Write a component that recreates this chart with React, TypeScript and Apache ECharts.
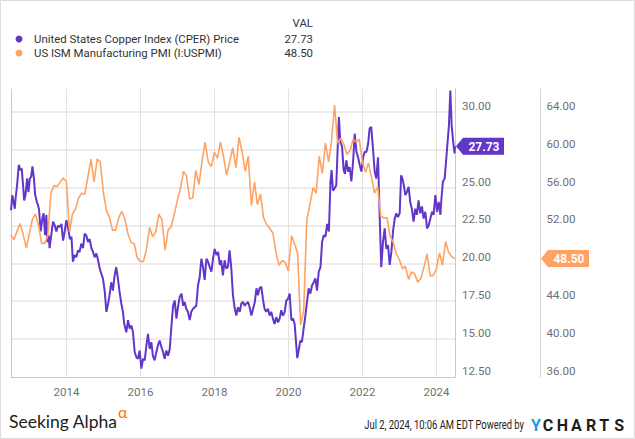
import React, { useEffect, useRef } from 'react';
import * as echarts from 'echarts';

const copperName = 'United States Copper Index (CPER) Price';
const pmiName = 'US ISM Manufacturing PMI (I:USPMI)';

const copperDates = [
  '2012-07-02','2012-07-15','2012-07-28','2012-08-08','2012-08-18','2012-08-31','2012-09-17','2012-10-03','2012-10-16','2012-10-29','2012-11-09','2012-11-22','2012-12-08','2012-12-21',
  '2013-01-04','2013-01-17','2013-01-30','2013-02-13','2013-02-26','2013-03-15','2013-04-04','2013-04-21','2013-05-07','2013-05-20','2013-06-03','2013-06-16','2013-06-26','2013-07-09','2013-07-18','2013-08-01','2013-08-21','2013-09-07','2013-09-23','2013-10-09','2013-10-26','2013-11-12','2013-11-28','2013-12-14','2013-12-31',
  '2014-01-17','2014-02-03','2014-02-19','2014-03-05','2014-03-22','2014-04-08','2014-04-24','2014-05-10','2014-05-27','2014-06-13','2014-06-29','2014-07-15','2014-08-01','2014-08-18','2014-09-04','2014-09-20','2014-10-06','2014-10-23','2014-11-09','2014-11-25','2014-12-11','2014-12-27',
  '2015-01-14','2015-01-30','2015-02-16','2015-03-02','2015-03-18','2015-04-04','2015-04-21','2015-05-07','2015-05-23','2015-06-09','2015-06-26','2015-07-12','2015-07-25','2015-08-14','2015-08-31','2015-09-17','2015-10-03','2015-10-19','2015-11-05','2015-11-22','2015-12-08','2015-12-24',
  '2016-01-10','2016-01-26','2016-02-12','2016-02-29','2016-03-15','2016-04-01','2016-04-17','2016-05-03','2016-05-20','2016-06-06','2016-06-22','2016-07-08','2016-07-25','2016-08-11','2016-08-27','2016-09-13','2016-09-30','2016-10-16','2016-11-02','2016-11-18','2016-12-04','2016-12-21',
  '2017-01-07','2017-01-23','2017-02-09','2017-02-26','2017-03-12','2017-03-28','2017-04-14','2017-05-01','2017-05-17','2017-06-03','2017-06-19','2017-07-05','2017-07-22','2017-08-08','2017-08-24','2017-09-10','2017-09-26','2017-10-13','2017-10-29','2017-11-15','2017-12-01','2017-12-17',
  '2018-01-03','2018-01-20','2018-02-06','2018-02-22','2018-03-08','2018-03-25','2018-04-11','2018-04-27','2018-05-13','2018-05-30','2018-06-16','2018-07-02','2018-07-18','2018-08-04','2018-08-21','2018-09-07','2018-09-23','2018-10-09','2018-10-26','2018-11-12','2018-11-28','2018-12-14','2018-12-31',
  '2019-01-17','2019-02-03','2019-02-19','2019-03-05','2019-03-22','2019-04-08','2019-04-24','2019-05-10','2019-05-26','2019-06-13','2019-06-29','2019-07-15','2019-08-01','2019-08-17','2019-09-03','2019-09-20','2019-10-06','2019-10-22','2019-11-08','2019-11-25','2019-12-11','2019-12-27',
  '2020-01-13','2020-01-30','2020-02-16','2020-03-02','2020-03-18','2020-03-28','2020-04-11','2020-04-27','2020-05-13','2020-05-30','2020-06-16','2020-07-02','2020-07-18','2020-08-04','2020-08-21','2020-09-07','2020-09-23','2020-10-09','2020-10-26','2020-11-12','2020-11-28','2020-12-14','2020-12-31',
  '2021-01-17','2021-02-03','2021-02-19','2021-03-02','2021-03-15','2021-04-01','2021-04-17','2021-05-03','2021-05-13','2021-05-27','2021-06-13','2021-06-29','2021-07-12','2021-07-25','2021-08-11','2021-08-27','2021-09-13','2021-09-30','2021-10-16','2021-11-02','2021-11-18','2021-12-04','2021-12-21',
  '2022-01-07','2022-01-23','2022-02-09','2022-02-26','2022-03-12','2022-03-28','2022-04-14','2022-05-01','2022-05-17','2022-06-03','2022-06-19','2022-07-05','2022-07-22','2022-08-08','2022-08-24','2022-09-10','2022-09-26','2022-10-13','2022-10-29','2022-11-15','2022-12-01','2022-12-17',
  '2023-01-03','2023-01-17','2023-01-30','2023-02-13','2023-02-28','2023-03-15','2023-04-01','2023-04-17','2023-05-03','2023-05-20','2023-06-06','2023-06-22','2023-07-08','2023-07-25','2023-08-11','2023-08-27','2023-09-13','2023-09-30','2023-10-16','2023-11-02','2023-11-18','2023-12-04','2023-12-21',
  '2024-01-07','2024-01-23','2024-02-09','2024-02-19','2024-03-05','2024-03-22','2024-04-08','2024-04-24','2024-05-03','2024-05-17','2024-05-30','2024-06-16','2024-06-28','2024-07-02',
];

const copperValues = [
  23.5,24.5,24.05,23.6,24.4,25.15,26.5,26.15,26.25,25.15,24.15,24.5,25.6,24.7,
  25.6,25.7,26.4,25.6,24.5,24.05,23.6,22.1,22.95,23.3,21.85,23.2,21.4,21.85,21.0,21.75,22.75,22.5,22.1,22.5,22.4,22.6,21.5,22.1,22.85,
  22.3,21.6,21.75,20.1,20.55,20.4,20.85,20.75,21.3,21.0,21.95,21.85,21.4,21.6,21.0,20.75,20.4,20.65,20.2,19.65,19.3,19.0,
  18.1,16.8,17.35,17.9,18.75,18.2,19.2,19.75,19.0,18.1,17.35,16.8,16.0,15.45,16.25,15.7,15.9,15.45,14.15,13.8,13.7,14.25,
  13.05,13.7,13.6,14.6,15.35,14.35,14.8,13.9,13.6,14.15,14.6,14.9,14.5,14.15,13.7,14.25,13.9,14.35,15.9,17.2,17.55,16.35,
  17.2,17.8,18.0,17.2,17.45,17.0,16.8,16.25,16.8,17.0,17.1,17.2,18.55,19.1,20.3,19.75,18.9,20.3,20.1,19.75,19.45,20.3,
  20.95,20.55,20.75,19.9,20.2,19.2,20.2,19.65,19.75,20.85,19.65,17.9,17.1,16.55,17.1,16.8,17.35,17.45,17.2,17.35,17.45,17.1,16.55,
  17.0,17.45,18.35,17.9,18.35,18.45,17.65,17.0,16.8,17.0,16.55,16.8,16.35,16.0,16.45,16.1,16.35,16.9,16.55,16.8,17.55,17.65,
  18.0,16.25,16.35,16.0,14.6,13.75,14.25,14.9,14.8,15.7,16.55,17.45,18.35,18.0,18.55,18.75,19.0,18.2,19.45,19.75,21.4,21.85,21.75,
  22.6,22.1,25.4,26.15,24.8,24.95,25.15,28.0,29.65,28.0,27.7,26.15,25.9,26.8,26.05,26.35,25.4,26.7,28.55,27.35,27.0,26.5,26.05,
  27.0,27.35,27.35,27.9,28.9,29.0,27.6,26.05,25.6,27.0,23.2,19.75,21.4,22.3,20.95,21.2,19.9,20.75,22.1,22.95,23.3,23.05,
  23.3,25.8,25.6,25.15,24.5,24.7,25.05,24.05,23.6,22.75,23.6,23.2,24.15,23.3,23.75,22.95,23.4,22.3,22.5,22.95,23.4,23.2,24.5,
  23.4,24.05,23.2,24.25,25.4,25.6,27.0,28.35,29.1,31.4,29.1,27.9,27.25,27.73,
];

// Monthly ISM PMI values, June 2012 through June 2024
const pmiStartYear = 2012;
const pmiStartMonth = 6;
const pmiValues = [
  51.0, 50.5, 51.4, 52.2, 51.0, 49.6, 51.2,
  52.7, 53.2, 52.0, 50.1, 50.1, 50.9, 55.4, 56.2, 56.1, 56.6, 57.0, 56.6,
  51.3, 53.2, 53.7, 54.9, 55.4, 55.3, 57.1, 59.0, 56.6, 59.0, 58.7, 55.5,
  53.5, 52.9, 51.5, 51.5, 52.8, 53.5, 52.7, 51.1, 50.2, 50.1, 48.6, 48.2,
  48.2, 49.5, 51.8, 50.8, 51.3, 53.2, 52.6, 49.4, 51.5, 51.9, 53.2, 54.7,
  56.0, 57.7, 57.2, 54.8, 54.9, 57.8, 56.3, 58.8, 60.8, 58.7, 58.2, 59.7,
  59.1, 60.8, 59.3, 57.3, 58.7, 60.2, 58.1, 61.3, 59.8, 57.7, 59.3, 54.1,
  56.6, 54.2, 55.3, 52.8, 52.1, 51.7, 51.2, 49.1, 47.8, 48.3, 48.1, 47.2,
  50.9, 50.1, 49.1, 41.5, 43.1, 52.6, 54.2, 56.0, 55.4, 59.3, 57.5, 60.7,
  58.7, 60.8, 64.7, 60.7, 61.2, 60.6, 59.5, 59.9, 61.1, 60.8, 61.1, 58.7,
  57.6, 58.6, 57.1, 55.4, 56.1, 53.0, 52.8, 52.8, 50.9, 50.2, 49.0, 48.4,
  47.4, 47.7, 46.3, 47.1, 46.9, 46.0, 46.4, 47.6, 49.0, 46.7, 46.7, 47.4,
  49.1, 47.8, 50.3, 49.2, 48.7, 48.5,
];

const xStart = '2012-07-02';
const xEnd = '2024-07-02';
const yearTicks = [2014, 2016, 2018, 2020, 2022, 2024];

const copperAxis = { min: 12.5, max: 31.5, interval: 2.5 };
const pmiAxis = { min: 36, max: 66.4, interval: 4 };

const PURPLE = '#6236c9';
const ORANGE = '#ffa262';
const FONT = 'Roboto';

function ts(s: string): number {
  const [y, m, d] = s.split('-').map(Number);
  return new Date(y, m - 1, d).getTime();
}
function monthEndTs(i: number): number {
  const m0 = pmiStartMonth - 1 + i;
  const y = pmiStartYear + Math.floor(m0 / 12);
  const mm = m0 % 12;
  return new Date(y, mm + 1, 0).getTime();
}

function measure(text: string, font: string): number {
  const c = document.createElement('canvas').getContext('2d');
  if (!c) return text.length * 6;
  c.font = font;
  return c.measureText(text).width;
}

export default function App() {
  const ref = useRef<HTMLDivElement>(null);
  useEffect(() => {
    document.body.style.margin = '0';
    const chart = echarts.init(ref.current!, null, { renderer: 'svg' });
    const copperData = copperDates.map((d, i) => [ts(d), copperValues[i]]);
    const pmiData = pmiValues.map((v, i) => [monthEndTs(i), v]);
    const tickTs = yearTicks.map((y) => new Date(y, 0, 1).getTime());
    const lastCopper = copperValues[copperValues.length - 1];
    const lastPmi = pmiValues[pmiValues.length - 1];

    const yLabel = {
      color: '#6f6f6f',
      fontFamily: FONT,
      fontSize: 11.5,
      verticalAlign: 'bottom',
      showMaxLabel: false,
    };

    chart.setOption({
      animation: false,
      grid: { left: 11, right: 180, top: 89, bottom: 62, containLabel: false },
      xAxis: {
        type: 'value',
        min: ts(xStart),
        max: ts(xEnd),
        axisLine: { show: true, lineStyle: { color: '#c8c8c8', width: 1 } },
        axisTick: { show: false, customValues: tickTs },
        axisLabel: {
          customValues: tickTs,
          formatter: (v: number) => String(new Date(v).getFullYear()),
          color: '#6f6f6f',
          fontFamily: FONT,
          fontSize: 11.5,
          margin: 9,
          hideOverlap: false,
        },
        splitLine: { show: true, lineStyle: { color: '#e2e2e2', width: 1 } },
      },
      yAxis: [
        {
          type: 'value',
          position: 'right',
          ...copperAxis,
          axisLine: { show: true, lineStyle: { color: '#c8c8c8' } },
          axisTick: { show: false },
          axisLabel: {
            ...yLabel,
            margin: 7,
            formatter: (v: number) => (Math.abs(v - lastCopper) < 0.7 ? '' : v.toFixed(2)),
          },
          splitLine: {
            show: true,
            showMinLine: false,
            showMaxLine: false,
            lineStyle: { color: '#ececec', width: 2 },
          },
        },
        {
          type: 'value',
          position: 'right',
          offset: 85.5,
          ...pmiAxis,
          axisLine: { show: true, lineStyle: { color: '#d6d6d6' } },
          axisTick: { show: false },
          axisLabel: {
            ...yLabel,
            margin: 6,
            formatter: (v: number) => (Math.abs(v - lastPmi) < 1.1 ? '' : v.toFixed(2)),
          },
          splitLine: { show: false },
        },
        {
          type: 'value',
          position: 'left',
          ...copperAxis,
          axisLine: { show: true, lineStyle: { color: '#c8c8c8' } },
          axisTick: { show: false },
          axisLabel: { show: false },
          splitLine: { show: false },
        },
      ],
      series: [
        {
          name: copperName,
          type: 'line',
          yAxisIndex: 0,
          data: copperData,
          showSymbol: false,
          lineStyle: { color: PURPLE, width: 2 },
          itemStyle: { color: PURPLE },
        },
        {
          name: pmiName,
          type: 'line',
          yAxisIndex: 1,
          data: pmiData,
          showSymbol: false,
          lineStyle: { color: ORANGE, width: 1.6 },
          itemStyle: { color: ORANGE },
        },
      ],
    });

    const cy = chart.convertToPixel({ yAxisIndex: 0 }, lastCopper) as number;
    const py = chart.convertToPixel({ yAxisIndex: 1 }, lastPmi) as number;

    const tag = (x0: number, y: number, w: number, color: string, text: string) => ({
      type: 'group',
      z: 100,
      children: [
        {
          type: 'polygon',
          z: 100,
          shape: {
            points: [
              [x0, y],
              [x0 + 7, y - 8.5],
              [x0 + w, y - 8.5],
              [x0 + w, y + 8.5],
              [x0 + 7, y + 8.5],
            ],
          },
          style: { fill: color },
        },
        {
          type: 'text',
          z: 101,
          x: x0 + 4 + w / 2,
          y: y + 0.5,
          style: {
            text,
            fill: '#ffffff',
            font: `bold 12px ${FONT}`,
            align: 'center',
            verticalAlign: 'middle',
          },
        },
      ],
    });

    const footer = 'Jul 2, 2024, 10:06 AM EDT Powered by';
    const footerFont = `12px ${FONT}`;
    const footerScale = 160 / measure(footer, footerFont);

    const ychartsLetters = [
      { ch: 'Y', x: 536, color: '#1f97e6' },
      { ch: 'C', x: 548, color: '#1c1c1c' },
      { ch: 'H', x: 562.5, color: '#1c1c1c' },
      { ch: 'A', x: 576.3, color: '#1c1c1c' },
      { ch: 'R', x: 591, color: '#1c1c1c' },
      { ch: 'T', x: 604.3, color: '#1c1c1c' },
      { ch: 'S', x: 619.2, color: '#1c1c1c' },
    ];

    const legendFont = `11.4px ${FONT}`;
    const legendRows = [
      { name: copperName, color: PURPLE, value: lastCopper.toFixed(2), y: 39 },
      { name: pmiName, color: ORANGE, value: lastPmi.toFixed(2), y: 53 },
    ];

    chart.setOption({
      graphic: [
        {
          type: 'rect',
          z: -10,
          shape: { x: 0.5, y: 0.5, width: 634, height: 438 },
          style: { fill: 'none', stroke: '#dddddd', lineWidth: 1 },
          silent: true,
        },
        {
          type: 'text',
          x: 313,
          y: 23,
          style: { text: 'VAL', font: legendFont, fill: '#333', align: 'right', verticalAlign: 'middle' },
        },
        ...legendRows.flatMap((r) => [
          { type: 'circle', shape: { cx: 19, cy: r.y, r: 3.5 }, style: { fill: r.color } },
          {
            type: 'text',
            x: 34,
            y: r.y,
            style: { text: r.name, font: legendFont, fill: '#333', verticalAlign: 'middle' },
          },
          {
            type: 'text',
            x: 313,
            y: r.y,
            style: { text: r.value, font: legendFont, fill: '#333', align: 'right', verticalAlign: 'middle' },
          },
        ]),
        tag(456, cy, 48, PURPLE, lastCopper.toFixed(2)),
        tag(541, py, 48, ORANGE, lastPmi.toFixed(2)),
        {
          type: 'text',
          x: 9,
          y: 421,
          style: { text: 'Seeking Alpha', font: `17.5px Lato`, fill: '#1e1e1e', verticalAlign: 'middle' },
        },
        {
          type: 'text',
          x: 118,
          y: 419,
          style: { text: 'α', font: `16px Lato`, fill: '#ff7300', verticalAlign: 'bottom' },
        },
        {
          type: 'text',
          x: 524,
          y: 425,
          scaleX: footerScale,
          style: { text: footer, font: footerFont, fill: '#222', align: 'right', verticalAlign: 'middle' },
        },
        ...ychartsLetters.map((l) => ({
          type: 'text',
          x: l.x,
          y: 425,
          style: {
            text: l.ch,
            font: `bold 16px ${FONT}`,
            fill: l.color,
            align: 'center',
            verticalAlign: 'middle',
          },
        })),
      ],
    });

    return () => chart.dispose();
  }, []);

  return (
    <div
      ref={ref}
      style={{ position: 'fixed', left: 0, top: 0, width: 635, height: 439, background: '#ffffff' }}
    />
  );
}
